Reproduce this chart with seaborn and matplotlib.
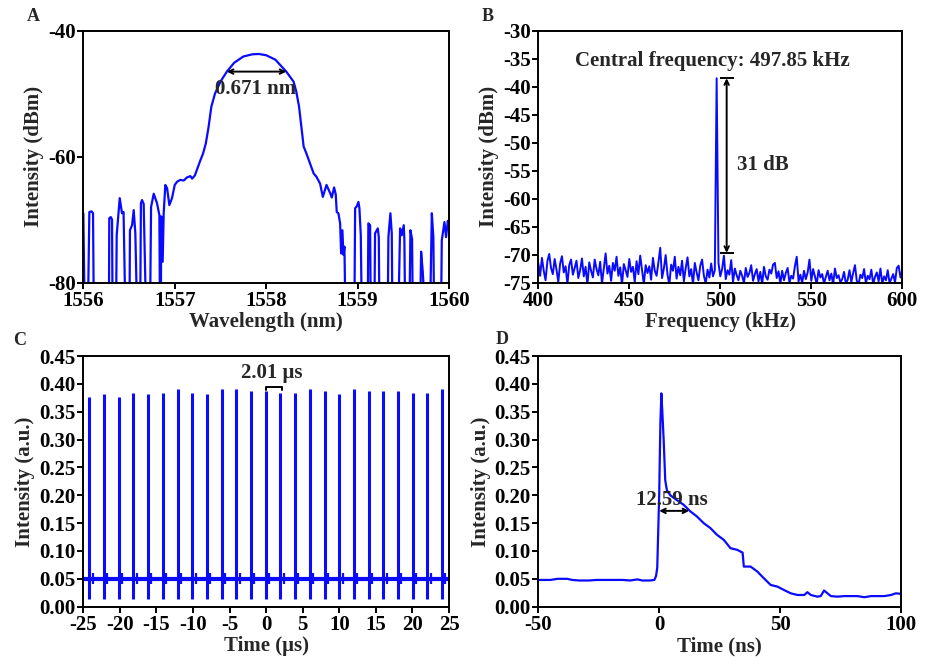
import numpy as np
import matplotlib
matplotlib.use("Agg")
import matplotlib.pyplot as plt
import seaborn as sns

# ---------------------
# Data
# ---------------------

# A: optical spectrum, -85 = below the -80 floor of the plot
wavelength_nm = [
    1556.00, 1556.015, 1556.05, 1556.066, 1556.09, 1556.106, 1556.115,
    1556.28, 1556.284, 1556.30, 1556.314, 1556.32,
    1556.358, 1556.365, 1556.398, 1556.423, 1556.44, 1556.46,
    1556.505, 1556.51, 1556.533, 1556.551, 1556.569, 1556.588,
    1556.622, 1556.63, 1556.642, 1556.66, 1556.686,
    1556.73, 1556.741, 1556.77, 1556.806, 1556.832, 1556.838, 1556.848,
    1556.852, 1556.868, 1556.879, 1556.897, 1556.916, 1556.941, 1556.97,
    1557.0, 1557.025, 1557.061, 1557.098, 1557.135, 1557.171, 1557.19,
    1557.22, 1557.24, 1557.28, 1557.31, 1557.34, 1557.37, 1557.40, 1557.44,
    1557.50, 1557.57, 1557.65, 1557.75, 1557.85, 1557.92, 1558.00, 1558.10,
    1558.22, 1558.30, 1558.33, 1558.36, 1558.39, 1558.41, 1558.44, 1558.48,
    1558.52, 1558.55, 1558.59, 1558.62, 1558.66, 1558.70, 1558.718, 1558.743,
    1558.761, 1558.772, 1558.79, 1558.809, 1558.82, 1558.834, 1558.845,
    1558.856, 1558.867, 1558.965, 1558.973, 1558.991, 1559.009, 1559.02,
    1559.035, 1559.046, 1559.111, 1559.118, 1559.137, 1559.144, 1559.184,
    1559.191, 1559.221, 1559.232, 1559.239, 1559.33, 1559.337, 1559.359,
    1559.374, 1559.381, 1559.446, 1559.465, 1559.483, 1559.505, 1559.512,
    1559.52, 1559.567, 1559.578, 1559.596, 1559.604, 1559.684, 1559.695,
    1559.713, 1559.739, 1559.793, 1559.812, 1559.829, 1559.837, 1559.913,
    1559.921, 1559.95, 1559.968, 1559.987, 1560.0,
]
spectrum_dbm = [
    -69.0, -85, -85, -68.8, -68.7, -69.0, -85,
    -85, -69.8, -69.6, -70.0, -85,
    -85, -72.5, -66.6, -69.0, -68.8, -85,
    -85, -71.7, -70.9, -68.5, -72.2, -85,
    -85, -67.4, -66.9, -67.5, -85,
    -85, -68.0, -65.9, -67.4, -69.3, -85, -85,
    -69.5, -76.7, -69.0, -64.5, -65.0, -67.7, -66.6,
    -64.5, -64.0, -63.7, -63.8, -63.3, -63.1, -63.5,
    -63.0, -62.2, -60.6, -59.5, -57.9, -55.3, -52.1, -50.0,
    -48.1, -46.5, -45.1, -44.1, -43.75, -43.7, -43.9, -44.6,
    -46.5, -48.1, -49.7, -52.1, -55.8, -58.4, -59.5, -61.1,
    -62.7, -63.2, -64.3, -66.4, -64.5, -65.8, -66.5, -64.9,
    -66.0, -68.8, -69.0, -70.6, -75.4, -71.7, -75.6,
    -74.3, -85, -85, -68.2, -67.9, -67.2, -68.2,
    -72.5, -85, -85, -70.6, -70.9, -85, -85,
    -72.2, -71.4, -72.8, -85, -85, -72.8, -69.0,
    -72.2, -85, -85, -71.4, -72.5, -70.9, -73.3,
    -85, -85, -71.7, -73.1, -85, -85, -75.1,
    -78.3, -85, -85, -69.0, -72.8, -85, -85,
    -73.3, -70.4, -72.8, -70.2, -71.0,
]

# B: RF spectrum, 1 kHz steps from 400 to 600 kHz
rf_khz = np.arange(400, 601)
rf_dbm = [
    -71.5, -73.8, -70.6, -72.9, -74.6, -71.2, -69.9, -72.4, -73.5, -70.8,
    -72.7, -74.9, -71.6, -70.3, -73.2, -72.1, -75.3, -71.9, -70.9, -73.6,
    -72.4, -71.1, -74.2, -72.8, -70.7, -73.9, -72.2, -75.4, -71.4, -72.9,
    -74.1, -70.9, -72.6, -73.7, -71.3, -75.2, -72.5, -69.8, -73.4, -72.0,
    -74.7, -71.5, -72.9, -70.4, -73.8, -72.3, -75.4, -71.7, -72.8, -74.0,
    -70.8, -73.1, -72.2, -74.9, -71.2, -73.5, -70.2, -72.7, -75.3, -71.9,
    -73.3, -72.1, -74.5, -70.6, -72.9, -73.8, -71.4, -68.8, -74.2, -72.5,
    -70.1, -73.6, -75.4, -71.8, -72.9, -70.4, -74.3, -72.2, -73.7, -71.1,
    -74.8, -72.4, -70.5, -73.9, -72.6, -75.3, -71.5, -73.2, -74.6, -72.0,
    -70.9, -73.8, -75.2, -72.7, -74.1, -71.6, -73.9, -72.8,
    -38.5,
    -71.5, -73.9, -72.6, -70.2, -74.4, -72.8, -73.6, -71.0, -74.9, -72.5, -73.7,
    -74.6, -72.9, -73.8, -75.1, -72.4, -74.0, -73.3, -71.9, -74.7, -73.5,
    -72.6, -74.8, -73.1, -75.3, -72.2, -73.9, -74.5, -72.7, -73.4, -71.8,
    -71.5, -74.2, -73.0, -75.2, -72.9, -74.6, -73.3, -72.4, -75.0, -73.8,
    -74.3, -72.1, -70.4, -74.8, -73.6, -75.1, -72.9, -74.4, -73.2, -70.9,
    -74.7, -72.6, -73.9, -75.3, -72.8, -74.1, -73.5, -75.2, -74.0, -72.9,
    -74.6, -73.4, -75.3, -72.5, -74.2, -73.7, -75.0, -74.4, -73.1, -75.2,
    -74.5, -72.8, -74.9, -73.3, -71.9, -74.7, -75.3, -73.6, -74.2, -72.6,
    -75.1, -73.8, -74.4, -72.7, -75.3, -74.0, -73.2, -74.8, -72.5, -75.2,
    -73.9, -74.6, -72.8, -75.1, -74.3, -73.5, -75.0, -72.4, -72.0, -74.1,
    -72.9,
]

# C: pulse train
pulse_us = [
    -24.18, -22.17, -20.16, -18.15, -16.14, -14.13, -12.12, -10.11, -8.10,
    -6.09, -4.08, -2.07, -0.06, 1.95, 3.96, 5.97, 7.98, 9.99, 12.00, 14.01,
    16.02, 18.03, 20.04, 22.05, 24.06,
]
pulse_peak = [
    0.377, 0.381, 0.377, 0.384, 0.381, 0.384, 0.391, 0.384, 0.381, 0.391,
    0.391, 0.387, 0.387, 0.384, 0.384, 0.391, 0.387, 0.381, 0.391, 0.387,
    0.387, 0.387, 0.384, 0.384, 0.391,
]
pulse_dip = 0.013
train_base = 0.049

# D: single pulse
time_ns = [
    -50, -45, -42, -38, -36, -33, -29, -26, -20, -15, -12, -9, -7, -4, -2,
    -1.3, -0.8, 0.0, 0.5, 0.9, 1.3, 1.85, 2.5, 3.2, 4.6, 7.4, 10.1, 12.9,
    15.6, 18.4, 21.2, 23.9, 26.7, 29.5, 32.3, 33.6, 34.5, 35.0, 37.8, 40.6,
    43.3, 46.1, 48.9, 51.6, 54.4, 57.2, 60.0, 61.3, 62.7, 65.4, 66.8, 68.2,
    69.6, 71.0, 73.7, 76.5, 82.0, 84.8, 87.6, 93.1, 95.9, 97.9, 100,
]
pulse_au = [
    0.048, 0.048, 0.050, 0.050, 0.048, 0.047, 0.047, 0.048, 0.048, 0.048,
    0.047, 0.049, 0.047, 0.047, 0.048, 0.055, 0.070, 0.200, 0.330, 0.383,
    0.350, 0.300, 0.227, 0.209, 0.200, 0.191, 0.183, 0.171, 0.162, 0.150,
    0.141, 0.129, 0.120, 0.105, 0.102, 0.099, 0.097, 0.072, 0.072, 0.063,
    0.051, 0.039, 0.036, 0.030, 0.024, 0.021, 0.021, 0.026, 0.021, 0.018,
    0.019, 0.029, 0.024, 0.019, 0.018, 0.019, 0.019, 0.017, 0.019, 0.019,
    0.021, 0.024, 0.023,
]

# ---------------------
# Style
# ---------------------

sns.set_theme(style="ticks")
plt.rcParams["font.family"] = ["Liberation Serif", "DejaVu Serif"]
plt.rcParams["font.weight"] = "bold"
plt.rcParams["axes.labelweight"] = "bold"
plt.rcParams["axes.unicode_minus"] = False
plt.rcParams["axes.linewidth"] = 1.4
plt.rcParams["xtick.major.width"] = 1.4
plt.rcParams["ytick.major.width"] = 1.4
plt.rcParams["xtick.major.size"] = 4
plt.rcParams["ytick.major.size"] = 4
plt.rcParams["xtick.major.pad"] = 2.0
plt.rcParams["ytick.major.pad"] = 1.5
FS = 15
plt.rcParams["xtick.labelsize"] = FS
plt.rcParams["ytick.labelsize"] = FS
plt.rcParams["axes.labelsize"] = FS

BLUE = "#0a0aff"

fig = plt.figure(figsize=(9.3, 6.57), dpi=100)
axA = fig.add_axes([0.0896, 0.570, 0.3932, 0.3833])
axB = fig.add_axes([0.5788, 0.570, 0.3914, 0.3833])
axC = fig.add_axes([0.0896, 0.0766, 0.3932, 0.3815])
axD = fig.add_axes([0.5788, 0.0766, 0.3900, 0.3815])

# ---------------------
# A
# ---------------------

sns.lineplot(x=wavelength_nm, y=spectrum_dbm, ax=axA, color=BLUE,
             lw=1.6, estimator=None, sort=False)
axA.set_xlim(1556, 1560)
axA.set_ylim(-80, -40)
axA.set_xticks([1556, 1557, 1558, 1559, 1560])
axA.set_yticks([-80, -60, -40])
axA.set_xlabel("Wavelength (nm)", labelpad=1)
axA.set_ylabel("Intensity (dBm)", labelpad=3)
axA.annotate("", xy=(1557.57, -46.5), xytext=(1558.22, -46.5),
             arrowprops=dict(arrowstyle="<->", color="black", lw=1.4,
                             shrinkA=0, shrinkB=0, mutation_scale=8))
axA.text(1557.88, -49.2, "0.671 nm", ha="center", va="center",
         fontsize=FS, fontweight="bold")

# ---------------------
# B
# ---------------------

sns.lineplot(x=rf_khz, y=rf_dbm, ax=axB, color=BLUE, lw=1.4,
             estimator=None, sort=False)
axB.set_xlim(400, 600)
axB.set_ylim(-75, -30)
axB.set_xticks([400, 450, 500, 550, 600])
axB.set_yticks(np.arange(-75, -29, 5))
axB.set_xlabel("Frequency (kHz)", labelpad=1)
axB.set_ylabel("Intensity (dBm)", labelpad=3)
axB.annotate("", xy=(503.5, -38.5), xytext=(503.5, -69.7),
             arrowprops=dict(arrowstyle="<->", color="black", lw=1.4,
                             shrinkA=0, shrinkB=0, mutation_scale=8))
axB.hlines([-38.5, -69.7], 500, 507.5, color="black", lw=1.4)
axB.text(495.8, -35.5, "Central frequency: 497.85 kHz", ha="center",
         va="center", fontsize=FS, fontweight="bold")
axB.text(523.3, -54.0, "31 dB", ha="center", va="center",
         fontsize=FS, fontweight="bold")

# ---------------------
# C
# ---------------------

axC.hlines(train_base, -25, 25, color=BLUE, lw=3.0)
axC.vlines(pulse_us, pulse_dip, pulse_peak, color=BLUE, lw=2.2)
axC.vlines([t + 0.45 for t in pulse_us], 0.040, 0.060, color=BLUE, lw=1.6)
axC.set_xlim(-25, 25)
axC.set_ylim(0, 0.45)
axC.set_xticks(np.arange(-25, 26, 5))
axC.set_yticks(np.arange(0, 0.451, 0.05))
axC.yaxis.set_major_formatter(plt.FormatStrFormatter("%.2f"))
axC.set_xlabel("Time (\u03bcs)", labelpad=1)
axC.set_ylabel("Intensity (a.u.)", labelpad=3)
axC.plot([-0.04, -0.04, 2.1, 2.1], [0.389, 0.394, 0.394, 0.389],
         color="black", lw=1.4)
axC.text(0.74, 0.419, "2.01 \u03bcs", ha="center", va="center",
         fontsize=FS, fontweight="bold")

# ---------------------
# D
# ---------------------

sns.lineplot(x=time_ns, y=pulse_au, ax=axD, color=BLUE, lw=1.6,
             estimator=None, sort=False)
axD.set_xlim(-50, 100)
axD.set_ylim(0, 0.45)
axD.set_xticks([-50, 0, 50, 100])
axD.set_yticks(np.arange(0, 0.451, 0.05))
axD.yaxis.set_major_formatter(plt.FormatStrFormatter("%.2f"))
axD.set_xlabel("Time (ns)", labelpad=1)
axD.set_ylabel("Intensity (a.u.)", labelpad=2)
axD.annotate("", xy=(0.0, 0.172), xytext=(12.4, 0.172),
             arrowprops=dict(arrowstyle="<->", color="black", lw=1.4,
                             shrinkA=0, shrinkB=0, mutation_scale=8))
axD.text(5.3, 0.191, "12.59 ns", ha="center", va="center",
         fontsize=FS, fontweight="bold")

for ax in [axA, axB, axC, axD]:
    for side in ["top", "right", "left", "bottom"]:
        ax.spines[side].set_visible(True)
        ax.spines[side].set_color("black")
    ax.tick_params(direction="out", colors="black", top=False, right=False)
    for lab in ax.get_xticklabels() + ax.get_yticklabels():
        lab.set_fontweight("bold")

# panel letters
for letter, x, y in [("A", 0.036, 0.975), ("B", 0.524, 0.975),
                     ("C", 0.021, 0.482), ("D", 0.540, 0.484)]:
    fig.text(x, y, letter, ha="center", va="center", fontsize=13,
             fontweight="bold")

plt.savefig("out.png", dpi=100)
